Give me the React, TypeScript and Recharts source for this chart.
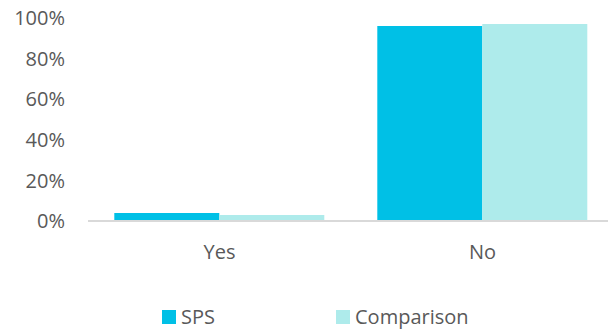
import React from "react";
import { BarChart, Bar, XAxis, YAxis, Legend } from "recharts";

const categories = ["Yes", "No"];
const spsValues = [4, 96];
const comparisonValues = [3, 97];
const yTicks = [0, 20, 40, 60, 80, 100];
const seriesOrder = ["SPS", "Comparison"];

const data = categories.map((name, i) => ({
  name,
  SPS: spsValues[i],
  Comparison: comparisonValues[i],
}));

const textColor = "#595959";
const font = "'Open Sans', sans-serif";

const renderLegend = (props: any) => {
  const payload = [...(props.payload || [])].sort(
    (a: any, b: any) => seriesOrder.indexOf(a.value) - seriesOrder.indexOf(b.value)
  );
  return (
    <div
      style={{
        display: "flex",
        alignItems: "center",
        height: 20,
        fontFamily: font,
        fontSize: 20,
        lineHeight: "20px",
        color: textColor,
      }}
    >
      {payload.map((entry: any, i: number) => (
        <div
          key={`legend-${i}`}
          style={{ display: "flex", alignItems: "center", width: i === 0 ? 174 : "auto" }}
        >
          <span
            style={{
              display: "inline-block",
              width: 14,
              height: 14,
              background: entry.color,
              marginRight: 5,
            }}
          />
          <span>{entry.value}</span>
        </div>
      ))}
    </div>
  );
};

const App: React.FC = () => {
  return (
    <div
      style={{
        position: "absolute",
        left: 0,
        top: 0,
        width: 608,
        height: 331,
        overflow: "hidden",
        background: "#fff",
      }}
    >
      <BarChart
        width={640}
        height={331}
        data={data}
        margin={{ top: 18, right: 26, bottom: 0, left: 0 }}
        barCategoryGap="10%"
        barGap={0}
      >
        <XAxis
          dataKey="name"
          axisLine={{ stroke: "#d9d9d9", strokeWidth: 2 }}
          tickLine={false}
          tickMargin={18}
          tick={{ fill: textColor, fontSize: 20, fontFamily: font }}
          height={90}
        />
        <YAxis
          domain={[0, 100]}
          ticks={yTicks}
          tickFormatter={(v: number) => `${v}%`}
          axisLine={false}
          tickLine={false}
          tickMargin={17}
          width={88}
          tick={{ fill: textColor, fontSize: 20, fontFamily: font }}
        />
        <Legend
          content={renderLegend}
          wrapperStyle={{ left: 162, top: 307, bottom: "auto", width: "auto", height: 20 }}
        />
        <Bar dataKey="SPS" fill="#00C0E6" isAnimationActive={false} />
        <Bar dataKey="Comparison" fill="#AEEBEB" isAnimationActive={false} />
      </BarChart>
    </div>
  );
};

export default App;
